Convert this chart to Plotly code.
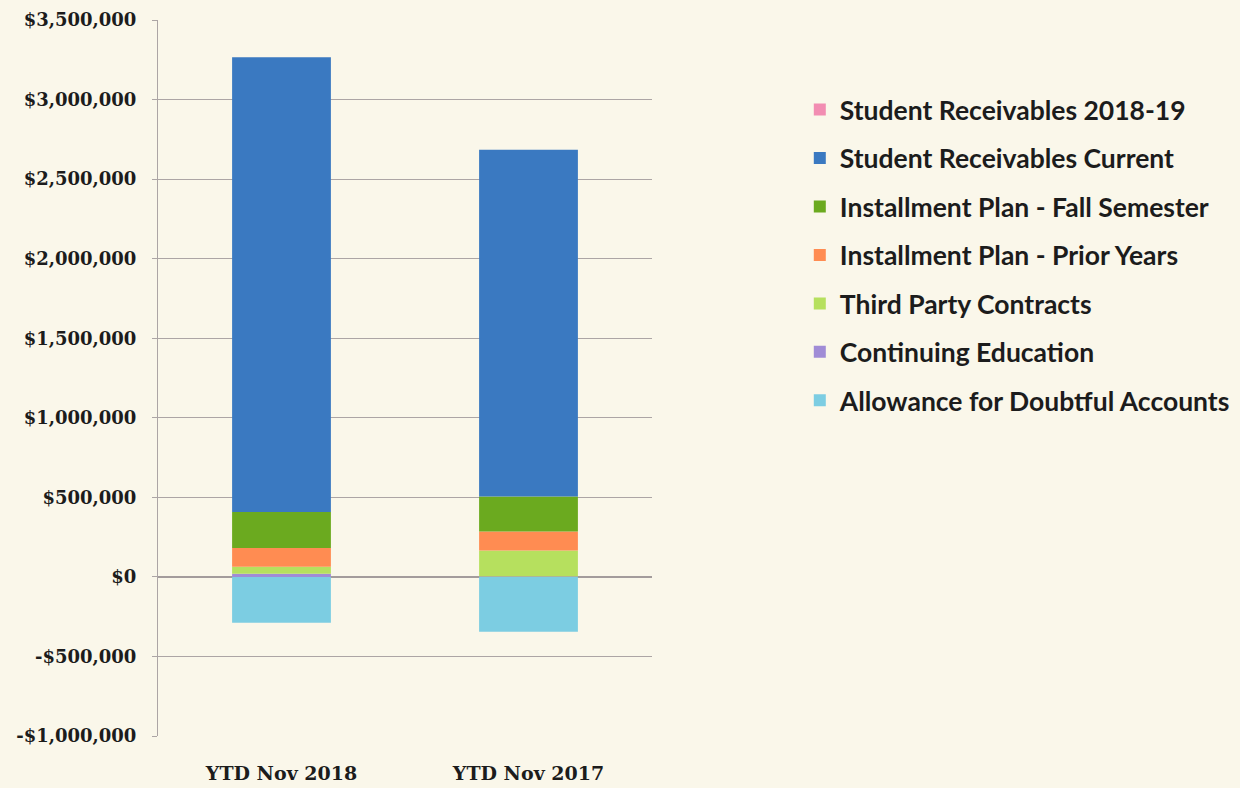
import plotly.graph_objects as go

categories = ["YTD Nov 2018", "YTD Nov 2017"]

series_names = [
    "Allowance for Doubtful Accounts",
    "Continuing Education",
    "Third Party Contracts",
    "Installment Plan - Prior Years",
    "Installment Plan - Fall Semester",
    "Student Receivables Current",
    "Student Receivables 2018-19",
]
allowance = [-289000, -345000]
continuing_ed = [19000, 3000]
third_party = [44000, 163000]
prior_years = [119000, 120000]
fall_semester = [226000, 220000]
current = [2858000, 2179000]
receivables_2018_19 = [0, 0]

series_values = [allowance, continuing_ed, third_party, prior_years,
                 fall_semester, current, receivables_2018_19]
colors = ["#7CCDE2", "#A08CD6", "#B6E05E", "#FF8C52", "#6BAA1F", "#3A79C1", "#F28DB2"]

tick_vals = [-1000000, -500000, 0, 500000, 1000000, 1500000, 2000000, 2500000, 3000000, 3500000]
tick_text = ["-$1,000,000", "-$500,000", "$0", "$500,000", "$1,000,000", "$1,500,000",
             "$2,000,000", "$2,500,000", "$3,000,000", "$3,500,000"]

fig = go.Figure()
n = len(series_names)
for i, (name, vals, col) in enumerate(zip(series_names, series_values, colors)):
    fig.add_trace(go.Bar(
        x=categories, y=vals, name=name, marker_color=col,
        marker_line_width=0, legendgroup=name, legendrank=n - i,
    ))

bg = "#FAF7EA"
fig.update_layout(
    barmode="relative",
    bargap=0.6,
    width=1240, height=788,
    paper_bgcolor=bg, plot_bgcolor=bg,
    margin=dict(l=158, r=588, t=20, b=52, autoexpand=False),
    font=dict(family="DejaVu Serif", color="#1c1c1c"),
    showlegend=True,
    legend=dict(
        xref="container", yref="container",
        x=0.645, y=0.891, xanchor="left", yanchor="top",
        traceorder="grouped", tracegroupgap=11,
        font=dict(family="Lato", size=26.5, color="#1c1c1c", weight="bold"),
        itemwidth=30, bgcolor="rgba(0,0,0,0)",
    ),
    xaxis=dict(
        showgrid=False, showline=False, ticks="",
        tickfont=dict(family="DejaVu Serif", size=19, weight="bold"),
        ticklabelstandoff=24,
    ),
    yaxis=dict(
        range=[-1000000, 3500000],
        tickvals=tick_vals, ticktext=tick_text,
        showgrid=True, gridcolor="#ACA5A5", gridwidth=1,
        zeroline=True, zerolinecolor="#A39C9C", zerolinewidth=1.5,
        showline=True, linecolor="#ACA5A5", linewidth=1,
        ticks="outside", ticklen=5, tickcolor="#ACA5A5",
        tickfont=dict(family="DejaVu Serif", size=18, weight="bold"),
        ticklabelstandoff=12,
    ),
)

post = "document.body.style.margin='0';document.body.style.background='%s';document.documentElement.style.background='%s';" % (bg, bg)
fig.write_html("out.html", post_script=post, config={"displayModeBar": False})
